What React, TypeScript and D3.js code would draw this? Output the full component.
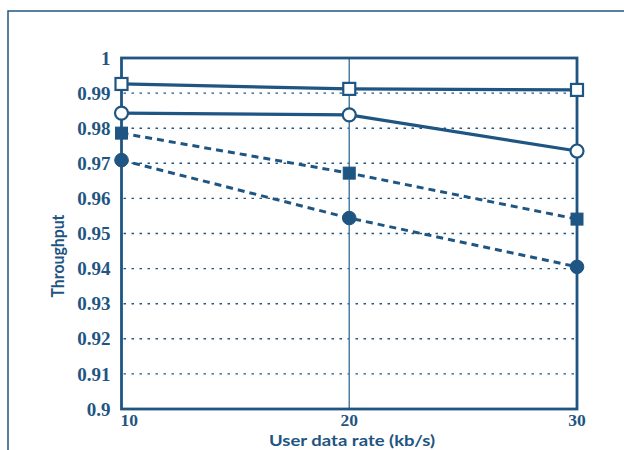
import { useEffect, useRef } from "react";
import * as d3 from "d3";

const xValues = [10, 20, 30];
const yTicks = [0.9, 0.91, 0.92, 0.93, 0.94, 0.95, 0.96, 0.97, 0.98, 0.99, 1];

const openSquare = [0.9926, 0.9912, 0.9909];
const openCircle = [0.9843, 0.9838, 0.9735];
const filledSquare = [0.9786, 0.9672, 0.9541];
const filledCircle = [0.9709, 0.9544, 0.9405];

const BLUE = "#1f5582";
const MARGIN = { top: 58, right: 47, bottom: 41, left: 121.5 };
const W = 624;
const H = 450;

type Series = {
  name: string;
  values: number[];
  shape: "square" | "circle";
  filled: boolean;
  dashed: boolean;
};

const seriesList: Series[] = [
  { name: "openSquare", values: openSquare, shape: "square", filled: false, dashed: false },
  { name: "openCircle", values: openCircle, shape: "circle", filled: false, dashed: false },
  { name: "filledSquare", values: filledSquare, shape: "square", filled: true, dashed: true },
  { name: "filledCircle", values: filledCircle, shape: "circle", filled: true, dashed: true },
];

export default function App() {
  const svgRef = useRef<SVGSVGElement>(null);

  useEffect(() => {
    if (!svgRef.current) return;
    const svg = d3.select(svgRef.current);
    svg.selectAll("*").remove();

    const x = d3
      .scaleLinear()
      .domain([10, 30])
      .range([MARGIN.left, W - MARGIN.right]);
    const y = d3
      .scaleLinear()
      .domain([0.9, 1])
      .range([H - MARGIN.bottom, MARGIN.top]);

    svg.append("rect").attr("width", W).attr("height", H).attr("fill", "#fff");

    // outer frame
    svg
      .append("rect")
      .attr("x", 8)
      .attr("y", 11)
      .attr("width", W + 10)
      .attr("height", H + 10)
      .attr("fill", "none")
      .attr("stroke", BLUE)
      .attr("stroke-width", 1.5);

    // grid (dotted)
    svg
      .append("g")
      .selectAll("line")
      .data(yTicks.filter((t) => t > 0.9 && t < 1))
      .join("line")
      .attr("x1", x(10) + 2)
      .attr("x2", x(30) - 3)
      .attr("y1", (d) => y(d))
      .attr("y2", (d) => y(d))
      .attr("stroke", BLUE)
      .attr("stroke-width", 1.4)
      .attr("stroke-dasharray", "2.5,5.5");

    // middle vertical line
    svg
      .append("line")
      .attr("x1", x(20))
      .attr("x2", x(20))
      .attr("y1", y(1))
      .attr("y2", y(0.9))
      .attr("stroke", "#4f7ea3")
      .attr("stroke-width", 1.5);

    // plot frame
    svg
      .append("rect")
      .attr("x", x(10))
      .attr("y", y(1))
      .attr("width", x(30) - x(10))
      .attr("height", y(0.9) - y(1))
      .attr("fill", "none")
      .attr("stroke", BLUE)
      .attr("stroke-width", 2.8);

    // y tick labels
    svg
      .append("g")
      .selectAll("text")
      .data(yTicks)
      .join("text")
      .attr("x", x(10) - 11)
      .attr("y", (d) => y(d))
      .attr("dy", "0.35em")
      .attr("text-anchor", "end")
      .attr("font-family", "'Liberation Serif', serif")
      .attr("font-weight", "bold")
      .attr("font-size", 19)
      .attr("fill", BLUE)
      .text((d) => (d === 1 ? "1" : d === 0.9 ? "0.9" : d3.format(".2f")(d)));

    // x tick labels
    svg
      .append("g")
      .selectAll("text")
      .data(xValues)
      .join("text")
      .attr("x", (d) => (d === 10 ? x(d) - 1 : x(d)))
      .attr("y", 426)
      .attr("text-anchor", (d) => (d === 10 ? "start" : "middle"))
      .attr("font-family", "'Liberation Serif', serif")
      .attr("font-weight", "bold")
      .attr("font-size", 17.5)
      .attr("fill", BLUE)
      .text((d) => String(d));

    // axis titles
    svg
      .append("text")
      .attr("x", 352)
      .attr("y", 446)
      .attr("text-anchor", "middle")
      .attr("font-family", "Lato, sans-serif")
      .attr("font-weight", "bold")
      .attr("font-size", 15.5)
      .attr("textLength", 166)
      .attr("lengthAdjust", "spacingAndGlyphs")
      .attr("fill", BLUE)
      .text("User data rate (kb/s)");

    svg
      .append("text")
      .attr("transform", `translate(64,256) rotate(-90)`)
      .attr("text-anchor", "middle")
      .attr("font-family", "Lato, sans-serif")
      .attr("font-weight", "bold")
      .attr("font-size", 16.5)
      .attr("textLength", 83)
      .attr("lengthAdjust", "spacingAndGlyphs")
      .attr("fill", BLUE)
      .text("Throughput");

    const line = d3
      .line<number>()
      .x((_, i) => x(xValues[i]))
      .y((d) => y(d));

    seriesList.forEach((s) => {
      svg
        .append("path")
        .datum(s.values)
        .attr("d", line)
        .attr("fill", "none")
        .attr("stroke", BLUE)
        .attr("stroke-width", s.dashed ? 3 : 3.2)
        .attr("stroke-dasharray", s.dashed ? "7,5" : null);

      const g = svg.append("g");
      if (s.shape === "square") {
        const size = 12;
        g.selectAll("rect")
          .data(s.values)
          .join("rect")
          .attr("x", (_, i) => x(xValues[i]) - size / 2)
          .attr("y", (d) => y(d) - size / 2)
          .attr("width", size)
          .attr("height", size)
          .attr("fill", s.filled ? BLUE : "#fff")
          .attr("stroke", BLUE)
          .attr("stroke-width", s.filled ? 1 : 2.2);
      } else {
        g.selectAll("circle")
          .data(s.values)
          .join("circle")
          .attr("cx", (_, i) => x(xValues[i]))
          .attr("cy", (d) => y(d))
          .attr("r", s.filled ? 6.8 : 6.5)
          .attr("fill", s.filled ? BLUE : "#fff")
          .attr("stroke", BLUE)
          .attr("stroke-width", s.filled ? 1 : 2.2);
      }
    });
  }, []);

  return (
    <svg
      ref={svgRef}
      width={W}
      height={H}
      style={{ position: "absolute", left: 0, top: 0, display: "block" }}
    />
  );
}
